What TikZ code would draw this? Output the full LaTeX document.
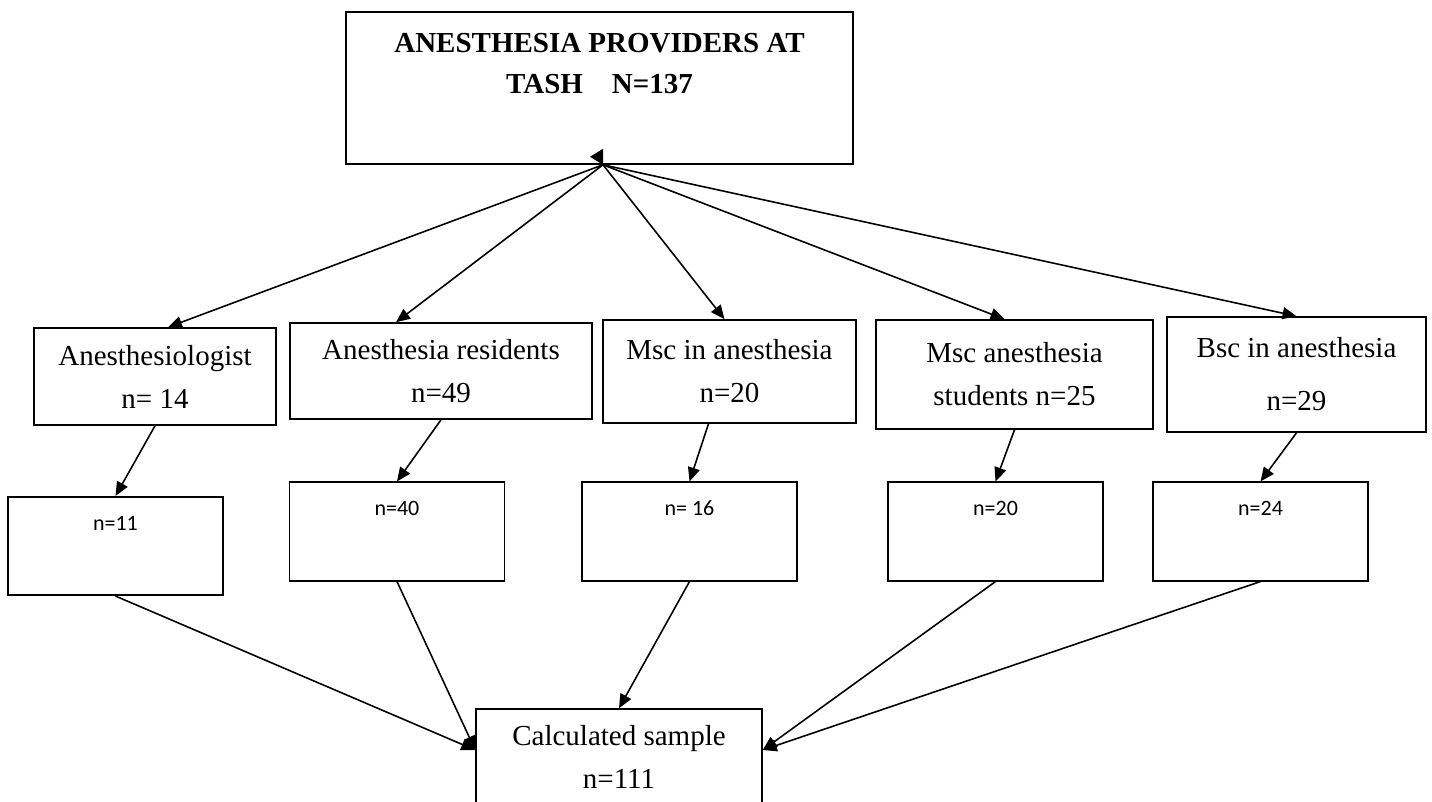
\documentclass[tikz,border=0pt]{standalone}
\usepackage{fontspec}
\setmainfont{Liberation Serif}
\newfontfamily\calibri{Carlito}
\usetikzlibrary{arrows.meta}
\begin{document}
\begin{tikzpicture}[line width=0.9pt,
  arr/.style={-{Triangle[length=0.28cm,width=0.24cm]}},
  midbox/.style={draw, rectangle, align=center, inner sep=0pt, font=\fontsize{16.5}{24.5}\selectfont},
  lowbox/.style={draw, rectangle, minimum width=4.3cm, minimum height=1.97cm},
  lowtext/.style={anchor=center, yshift=-0.54cm, font=\calibri\fontsize{12.5}{15}\selectfont}]
\useasboundingbox (0,0) rectangle (28.64,-16.02);
\node[draw, rectangle, minimum width=10.14cm, minimum height=3.04cm,
  label={[anchor=north, yshift=-0.30cm, align=center, font=\bfseries\fontsize{16.5}{23.5}\selectfont]north:ANESTHESIA PROVIDERS AT\\TASH\quad N=137}] (top) at (11.99,-1.76) {};
\coordinate (hub) at ([xshift=0.07cm]top.south);
\fill (hub) -- ++(0,0.32) -- ++(-0.26,-0.16) -- cycle;
\node[midbox, minimum width=4.84cm, minimum height=1.94cm] (m1) at (3.10,-7.53) {Anesthesiologist\\n= 14};
\node[midbox, minimum width=6.04cm, minimum height=1.92cm] (m2) at (8.82,-7.42) {Anesthesia residents\\n=49};
\node[midbox, minimum width=5.06cm, minimum height=2.06cm] (m3) at (14.59,-7.43) {Msc in anesthesia\\n=20};
\node[midbox, minimum width=5.54cm, minimum height=2.18cm] (m4) at (20.29,-7.49) {Msc anesthesia\\students n=25};
\node[midbox, minimum width=5.18cm, minimum height=2.30cm] (m5) at (25.93,-7.49) {Bsc in anesthesia\\[0.2cm]n=29};
\node[lowbox, label={[lowtext]north:n=11}] (b1) at (2.31,-10.92) {};
\node[lowbox, label={[lowtext]north:n=40}] (b2) at (7.94,-10.63) {};
\node[lowbox, label={[lowtext]north:n= 16}] (b3) at (13.79,-10.63) {};
\node[lowbox, label={[lowtext]north:n=20}] (b4) at (19.91,-10.63) {};
\node[lowbox, label={[lowtext]north:n=24}] (b5) at (25.21,-10.63) {};
\node[midbox, minimum width=5.72cm, minimum height=1.92cm] (calc) at (12.38,-15.14) {Calculated sample\\n=111};
\path[draw,arr] (hub) -- ([xshift=0.26cm]m1.north);
\path[draw,arr] (hub) -- ([xshift=-0.9cm]m2.north);
\path[draw,arr] (hub) -- ([xshift=-0.1cm]m3.north);
\path[draw,arr] (hub) -- ([xshift=-0.2cm]m4.north);
\path[draw,arr] (hub) -- (m5.north);
\path[draw,arr] (m1.south) -- (b1.north);
\path[draw,arr] (m2.south) -- (b2.north);
\path[draw,arr] ([xshift=-0.42cm]m3.south) -- (b3.north);
\path[draw,arr] (m4.south) -- (b4.north);
\path[draw,arr] (m5.south) -- (b5.north);
\path[draw,arr] (b1.south) -- ([yshift=0.14cm]calc.west);
\path[draw,arr] (b2.south) -- ([yshift=0.14cm]calc.west);
\path[draw,arr] (b3.south) -- (calc.north);
\path[draw,arr] (b4.south) -- ([yshift=0.14cm]calc.east);
\path[draw,arr] (b5.south) -- ([yshift=0.14cm]calc.east);
\end{tikzpicture}
\end{document}
